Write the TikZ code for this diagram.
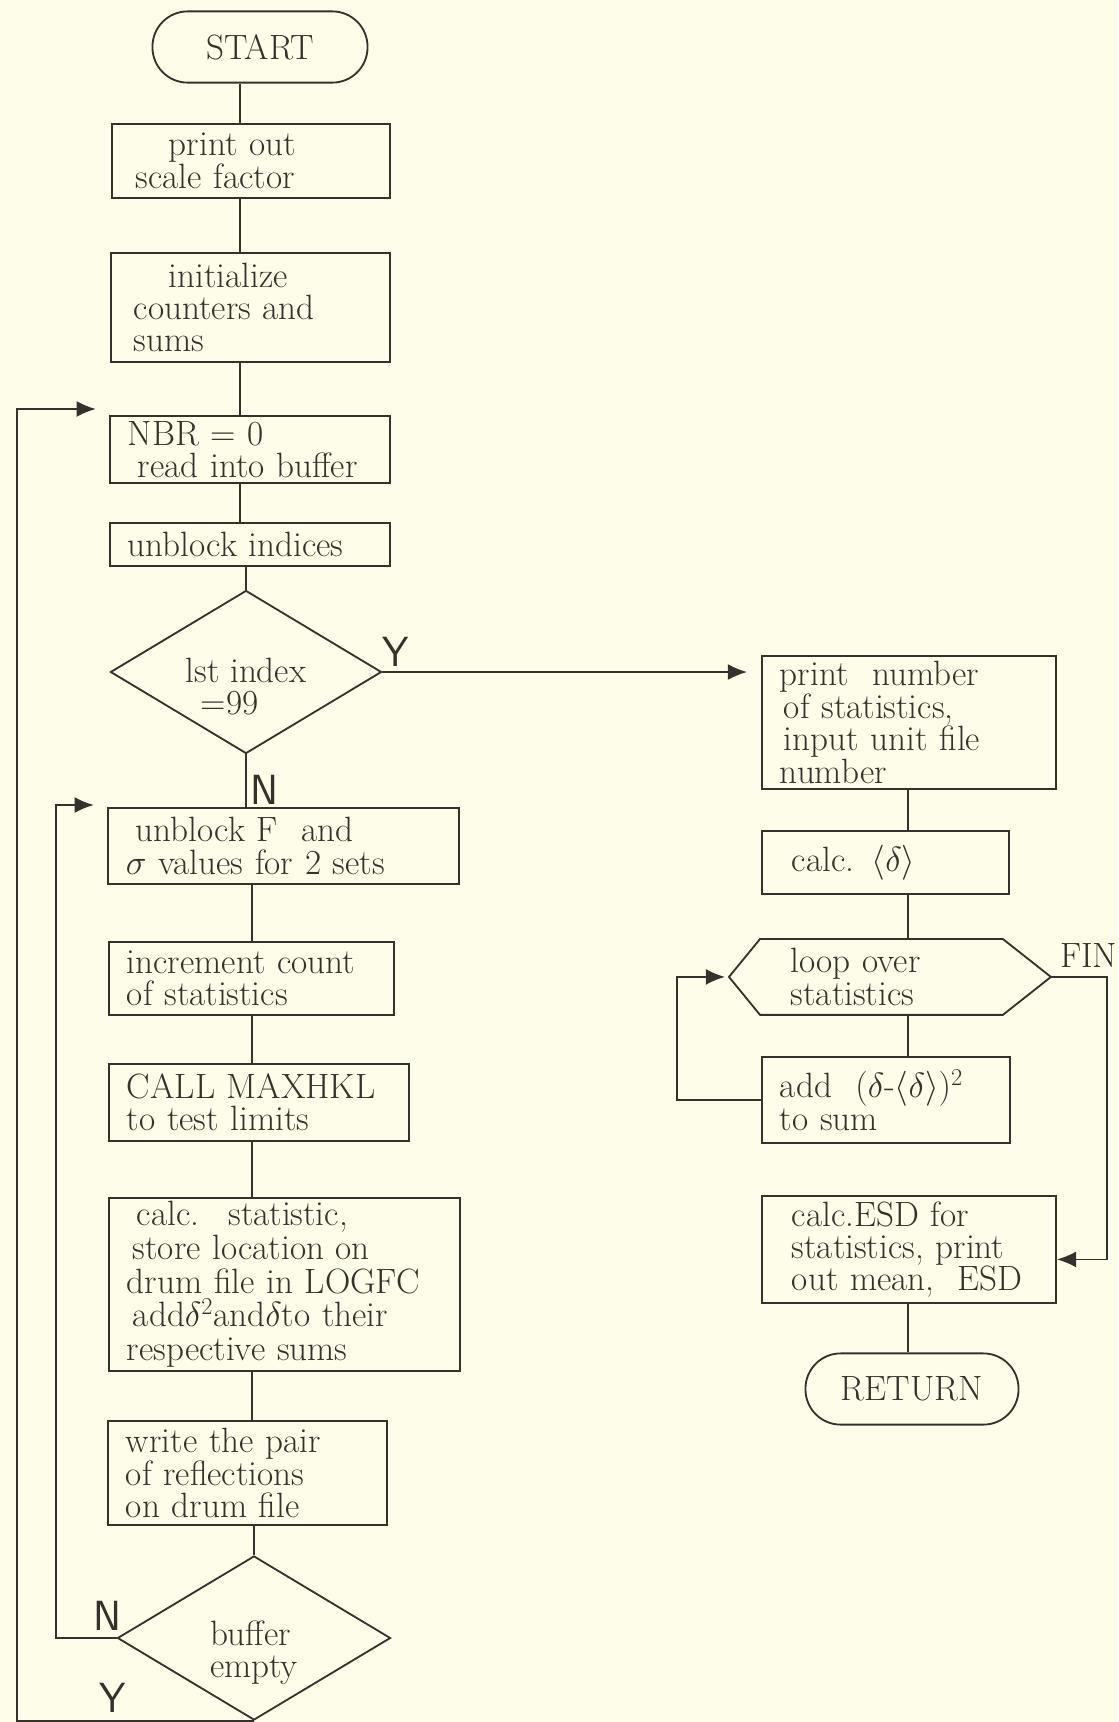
\documentclass[tikz,border=0pt]{standalone}
\usepackage{xcolor}
\usepackage{tikz}
\usetikzlibrary{shapes.geometric,arrows.meta}
\definecolor{FCPaper}{HTML}{FDFDE9}
\definecolor{FCInk}{HTML}{35312C}

\begin{document}
\begin{tikzpicture}[x=0.025cm,y=-0.025cm,
  ink/.style={draw=FCInk,line width=1.3pt},
  box/.style={ink,rectangle,anchor=north west,align=left,inner xsep=0.45cm,inner ysep=0.05cm,text=FCInk,font=\fontsize{25}{23}\selectfont},
  term/.style={ink,rectangle,rounded corners=0.88cm,minimum height=1.78cm,text=FCInk,font=\fontsize{25}{23}\selectfont},
  decide/.style={ink,diamond,aspect=1.66,inner sep=-0.2cm,align=left,text=FCInk,font=\fontsize{25}{23}\selectfont},
  flow/.style={ink,-{Latex[length=0.48cm,width=0.4cm]}},
  yn/.style={text=FCInk,inner sep=0pt,font=\sffamily\fontsize{30}{30}\selectfont}]
\fill[FCPaper] (0,0) rectangle (1118,1722);
\path[use as bounding box] (0,0) rectangle (1118,1722);
\coordinate (spine) at (240,0);
\coordinate (lspine) at (252,0);
\coordinate (rspine) at (908,0);
\coordinate (outer) at (17,0);
\coordinate (inner) at (56,0);
\coordinate (back) at (677,0);
\coordinate (finx) at (1107,0);

\node[term,minimum width=5.375cm] (start) at (260,47) {START};
\node[box,text width=6.05cm,minimum height=1.85cm] (prt) at (111,123) {\hspace*{0.975cm}print out\\\hspace*{0.15cm}scale factor};
\node[box,text width=6.075cm,minimum height=2.725cm] (init) at (110,252) {\hspace*{1cm}initialize\\\hspace*{0.125cm}counters and\\\hspace*{0.125cm}sums};
\node[box,text width=6.1cm,minimum height=1.675cm] (nbr) at (109,415) {NBR = 0\\\hspace*{0.25cm}read~into~buffer};
\node[box,text width=6.1cm,minimum height=1.075cm] (unb) at (109,522) {unblock indices};
\node[decide,minimum width=6.775cm,minimum height=4.075cm] (d1) at (246,672) {\rule{0pt}{1.35cm}lst index\\\hspace*{0.375cm}=99};
\node[box,text width=7.875cm,minimum height=1.9cm] (unbF) at (107,807) {\hspace*{0.25cm}unblock F~ and\\$\sigma$ values for 2 sets};
\node[box,text width=6.225cm,minimum height=1.825cm] (inc) at (108,941) {increment~count\\of statistics};
\node[box,text width=6.6cm,minimum height=1.925cm] (call) at (108,1063) {CALL~MAXHKL\\to test limits};
\node[box,text width=7.875cm,minimum height=4.325cm,font=\fontsize{25}{24}\selectfont] (calc) at (108,1197) {\hspace*{0.25cm}calc.~ statistic,\\\hspace*{0.15cm}store location on\\drum~file~in~LOGFC\\\hspace*{0.15cm}add$\delta^{\smash{2}}$and$\delta$to their\\respective sums};
\node[box,text width=6.075cm,minimum height=2.6cm] (wrt) at (107,1420) {write the pair\\of reflections\\on drum file};
\node[decide,minimum width=6.825cm,minimum height=4.1cm] (d2) at (254,1638) {\rule{0pt}{1.35cm}buffer\\empty};

\node[box,text width=6.45cm,minimum height=3.325cm] (pnum) at (761,655) {print~ number\\\hspace*{0.1cm}of statistics,\\\hspace*{0.1cm}input unit file\\number};
\node[box,inner xsep=0.75cm,text width=4.675cm,minimum height=1.575cm] (cmean) at (761,830) {calc. $\langle\delta\rangle$};
\node[box,draw=none,inner xsep=0.75cm,text width=4.525cm,minimum height=1.85cm] (loop) at (760,939) {loop over\\statistics};
\coordinate (loopL) at ([xshift=-0.775cm]loop.west);
\coordinate (loopR) at ([xshift=1.2cm]loop.east);
\draw[ink] (loop.north west) -- (loop.north east) -- (loopR) -- (loop.south east) -- (loop.south west) -- (loopL) -- cycle;
\node[box,text width=5.3cm,minimum height=2.15cm] (add) at (761,1056) {add~ $(\delta$-$\langle\delta\rangle)^2$\\to sum};
\node[box,inner xsep=0.75cm,text width=5.85cm,minimum height=2.675cm] (esd) at (761,1195) {calc.ESD for\\statistics,~print\\out mean,~ ESD};
\node[term,minimum width=5.325cm] (ret) at (912,1389) {RETURN};

\node[yn] (y1) at (396,652) {Y};
\node[yn] (n1) at (264,790) {N};
\node[yn] (n2) at (107,1616) {N};
\node[yn] (y2) at (113,1698) {Y};
\node[text=FCInk,inner sep=0pt,anchor=south west,font=\fontsize{25}{23}\selectfont] (fin) at (1060,968) {FIN};

\draw[ink] (start.south -| spine) -- (prt.north -| spine);
\draw[ink] (prt.south -| spine) -- (init.north -| spine);
\draw[ink] (init.south -| spine) -- (nbr.north -| spine);
\draw[ink] (nbr.south -| spine) -- (unb.north -| spine);
\draw[ink] (unb.south -| d1.north) -- (d1.north);
\draw[ink] (d1.south) -- (unbF.north -| d1.south);
\draw[ink] (unbF.south -| lspine) -- (inc.north -| lspine);
\draw[ink] (inc.south -| lspine) -- (call.north -| lspine);
\draw[ink] (call.south -| lspine) -- (calc.north -| lspine);
\draw[ink] (calc.south -| lspine) -- (wrt.north -| lspine);
\draw[ink] (wrt.south -| d2.north) -- (d2.north);
\draw[ink] (pnum.south -| rspine) -- (cmean.north -| rspine);
\draw[ink] (cmean.south -| rspine) -- (loop.north -| rspine);
\draw[ink] (loop.south -| rspine) -- (add.north -| rspine);
\draw[ink] (esd.south -| rspine) -- (ret.north -| rspine);

\draw[flow,shorten >=0.35cm] (d1.east) -- (d1.east -| pnum.west);
\draw[flow,shorten >=0.33cm] (d2.south) -- (d2.south -| outer) |- ([yshift=0.15cm]nbr.north west);
\draw[flow,shorten >=0.33cm] (d2.west) -- (d2.west -| inner) |- ([yshift=0.05cm]unbF.north west);
\draw[flow,shorten >=0.1cm] (add.west) -- (add.west -| back) |- (loopL);
\draw[flow] (loopR) -- (loopR -| finx) |- ([yshift=-0.25cm]esd.east);
\end{tikzpicture}
\end{document}
